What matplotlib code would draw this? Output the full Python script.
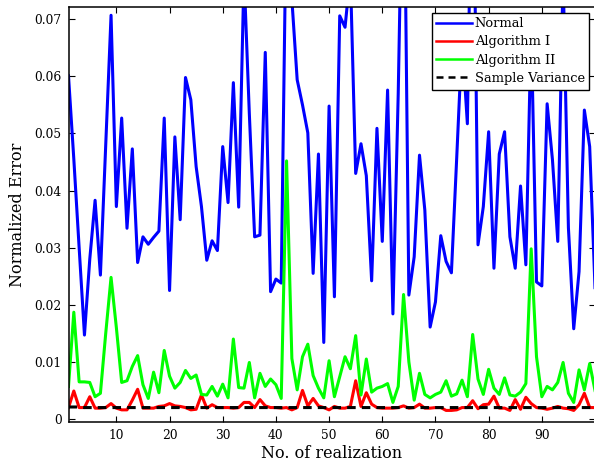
import matplotlib
matplotlib.use("Agg")
import matplotlib.pyplot as plt
import numpy as np

realization = list(range(1, 101))

normal = [0.0601, 0.0455, 0.0300, 0.0147, 0.0280, 0.0383, 0.0252, 0.0480, 0.0707, 0.0372,
          0.0527, 0.0334, 0.0473, 0.0274, 0.0319, 0.0306, 0.0318, 0.0329, 0.0527, 0.0225,
          0.0494, 0.0349, 0.0598, 0.0559, 0.0442, 0.0372, 0.0278, 0.0312, 0.0295, 0.0477,
          0.0379, 0.0589, 0.0371, 0.0780, 0.0535, 0.0319, 0.0322, 0.0642, 0.0223, 0.0245,
          0.0238, 0.0930, 0.0735, 0.0594, 0.0550, 0.0501, 0.0255, 0.0464, 0.0134, 0.0548,
          0.0214, 0.0706, 0.0686, 0.0780, 0.0430, 0.0482, 0.0426, 0.0242, 0.0509, 0.0311,
          0.0576, 0.0184, 0.0570, 0.1080, 0.0217, 0.0284, 0.0462, 0.0366, 0.0161, 0.0205,
          0.0321, 0.0276, 0.0256, 0.0458, 0.0665, 0.0517, 0.1100, 0.0305, 0.0372, 0.0503,
          0.0264, 0.0464, 0.0503, 0.0319, 0.0264, 0.0408, 0.0270, 0.0690, 0.0240, 0.0233,
          0.0552, 0.0454, 0.0311, 0.0780, 0.0335, 0.0158, 0.0258, 0.0541, 0.0477, 0.0230]

algorithm1 = [0.0020, 0.0049, 0.0020, 0.0020, 0.0039, 0.0019, 0.0019, 0.0020, 0.0027, 0.0019,
              0.0016, 0.0016, 0.0033, 0.0052, 0.0019, 0.0019, 0.0019, 0.0022, 0.0023, 0.0027,
              0.0023, 0.0022, 0.0020, 0.0016, 0.0017, 0.0042, 0.0019, 0.0025, 0.0020, 0.0020,
              0.0020, 0.0019, 0.0020, 0.0029, 0.0029, 0.0020, 0.0034, 0.0023, 0.0020, 0.0020,
              0.0019, 0.0020, 0.0016, 0.0020, 0.0050, 0.0023, 0.0036, 0.0023, 0.0020, 0.0016,
              0.0022, 0.0019, 0.0019, 0.0022, 0.0067, 0.0022, 0.0046, 0.0026, 0.0020, 0.0019,
              0.0019, 0.0019, 0.0020, 0.0023, 0.0019, 0.0020, 0.0026, 0.0019, 0.0019, 0.0020,
              0.0020, 0.0015, 0.0015, 0.0016, 0.0020, 0.0020, 0.0032, 0.0018, 0.0025, 0.0026,
              0.0040, 0.0019, 0.0019, 0.0015, 0.0034, 0.0017, 0.0038, 0.0027, 0.0020, 0.0019,
              0.0017, 0.0019, 0.0022, 0.0019, 0.0018, 0.0015, 0.0025, 0.0045, 0.0020, 0.0020]

algorithm2 = [0.0057, 0.0187, 0.0065, 0.0065, 0.0064, 0.0039, 0.0045, 0.0150, 0.0248, 0.0160,
              0.0064, 0.0067, 0.0092, 0.0111, 0.0060, 0.0036, 0.0082, 0.0046, 0.0120, 0.0075,
              0.0054, 0.0064, 0.0085, 0.0071, 0.0077, 0.0043, 0.0042, 0.0057, 0.0040, 0.0061,
              0.0037, 0.0140, 0.0055, 0.0054, 0.0099, 0.0037, 0.0080, 0.0057, 0.0070, 0.0060,
              0.0036, 0.0452, 0.0106, 0.0051, 0.0109, 0.0131, 0.0076, 0.0054, 0.0037, 0.0102,
              0.0039, 0.0074, 0.0109, 0.0088, 0.0146, 0.0042, 0.0105, 0.0047, 0.0054, 0.0057,
              0.0062, 0.0029, 0.0057, 0.0218, 0.0100, 0.0033, 0.0080, 0.0043, 0.0037, 0.0043,
              0.0047, 0.0067, 0.0040, 0.0044, 0.0068, 0.0039, 0.0148, 0.0070, 0.0043, 0.0087,
              0.0054, 0.0043, 0.0072, 0.0042, 0.0040, 0.0047, 0.0062, 0.0298, 0.0109, 0.0039,
              0.0057, 0.0051, 0.0064, 0.0099, 0.0045, 0.0029, 0.0086, 0.0051, 0.0097, 0.0050]

sample_variance = [0.0021, 0.0021, 0.0021, 0.0020, 0.0020, 0.0020, 0.0020, 0.0020, 0.0020, 0.0020,
                   0.0020, 0.0020, 0.0020, 0.0020, 0.0020, 0.0020, 0.0020, 0.0020, 0.0020, 0.0020,
                   0.0020, 0.0020, 0.0020, 0.0020, 0.0020, 0.0020, 0.0020, 0.0020, 0.0020, 0.0020,
                   0.0020, 0.0020, 0.0020, 0.0020, 0.0020, 0.0020, 0.0020, 0.0020, 0.0020, 0.0020,
                   0.0020, 0.0020, 0.0020, 0.0020, 0.0020, 0.0020, 0.0020, 0.0020, 0.0020, 0.0020,
                   0.0020, 0.0020, 0.0020, 0.0020, 0.0020, 0.0020, 0.0020, 0.0020, 0.0020, 0.0020,
                   0.0020, 0.0020, 0.0020, 0.0020, 0.0020, 0.0020, 0.0020, 0.0020, 0.0020, 0.0020,
                   0.0020, 0.0020, 0.0020, 0.0020, 0.0020, 0.0020, 0.0020, 0.0020, 0.0020, 0.0020,
                   0.0020, 0.0020, 0.0020, 0.0020, 0.0020, 0.0020, 0.0020, 0.0020, 0.0020, 0.0020,
                   0.0020, 0.0020, 0.0020, 0.0020, 0.0020, 0.0020, 0.0020, 0.0020, 0.0020, 0.0020]

series_labels = ["Normal", "Algorithm I", "Algorithm II", "Sample Variance"]
x_ticks = [10, 20, 30, 40, 50, 60, 70, 80, 90]
y_ticks = [0, 0.01, 0.02, 0.03, 0.04, 0.05, 0.06, 0.07]
y_tick_labels = ["0", "0.01", "0.02", "0.03", "0.04", "0.05", "0.06", "0.07"]

plt.rcParams['font.family'] = ['DejaVu Serif']

W, H = 594, 463
fig = plt.figure(figsize=(W / 100, H / 100), dpi=100)
left, right, top, bottom = 68.5, 595.0, 6.7, 422.3
ax = fig.add_axes([left / W, 1 - bottom / H, (right - left) / W, (bottom - top) / H])

lw = 2.2
ax.plot(realization, normal, color='#0000ff', lw=lw, label=series_labels[0])
ax.plot(realization, algorithm1, color='#ff0000', lw=lw, label=series_labels[1])
ax.plot(realization, algorithm2, color='#00ff00', lw=lw, label=series_labels[2])
ax.plot(realization, sample_variance, color='black', lw=lw, ls=(0, (2.8, 2.0)),
        label=series_labels[3])

ax.set_xlim(1, 100)
ax.set_ylim(-0.00058, 0.0722)
ax.set_xticks(x_ticks)
ax.set_yticks(y_ticks)
ax.set_yticklabels(y_tick_labels)
ax.tick_params(direction='in', length=4, width=0.8, top=True, right=True,
               labelsize=8.8, pad=5, colors='black')
for s in ax.spines.values():
    s.set_linewidth(1.1)

ax.set_xlabel("No. of realization", fontsize=11.5, labelpad=2)
ax.set_ylabel("Normalized Error", fontsize=11.5, labelpad=6)

leg = ax.legend(loc='upper right', bbox_to_anchor=((589.3 - left) / (right - left),
                (bottom - 12.7) / (bottom - top)),
                borderaxespad=0, fancybox=False, edgecolor='black', framealpha=1,
                fontsize=9.4, handlelength=2.75, handletextpad=0.2, labelspacing=0.4,
                borderpad=0.35)
leg.get_frame().set_linewidth(1.0)
for line in leg.get_lines():
    line.set_linewidth(1.8)

fig.savefig("out.png", dpi=100)
